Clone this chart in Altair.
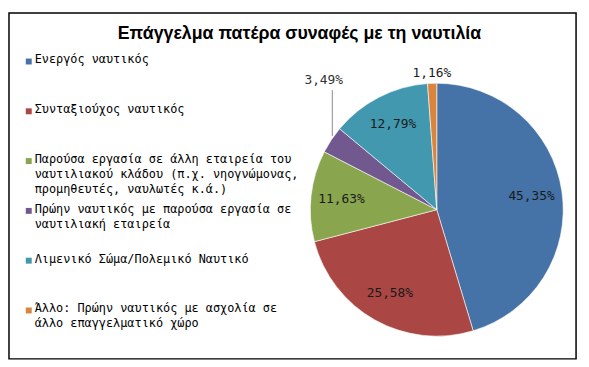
import math
import altair as alt
import pandas as pd

title_text = "Επάγγελμα πατέρα συναφές με τη ναυτιλία"
categories = [
    "Ενεργός ναυτικός",
    "Συνταξιούχος ναυτικός",
    "Παρούσα εργασία σε άλλη εταιρεία του ναυτιλιακού κλάδου",
    "Πρώην ναυτικός με παρούσα εργασία σε ναυτιλιακή εταιρεία",
    "Λιμενικό Σώμα/Πολεμικό Ναυτικό",
    "Άλλο: Πρώην ναυτικός με ασχολία σε άλλο επαγγελματικό χώρο",
]
legend_labels = [
    "Ενεργός ναυτικός",
    "Συνταξιούχος ναυτικός",
    "Παρούσα εργασία σε άλλη εταιρεία του\nναυτιλιακού κλάδου (π.χ. νηογνώμονας,\nπρομηθευτές, ναυλωτές κ.ά.)",
    "Πρώην ναυτικός με παρούσα εργασία σε\nναυτιλιακή εταιρεία",
    "Λιμενικό Σώμα/Πολεμικό Ναυτικό",
    "Άλλο: Πρώην ναυτικός με ασχολία σε\nάλλο επαγγελματικό χώρο",
]
values = [45.35, 25.58, 11.63, 3.49, 12.79, 1.16]
colors = ["#4572A7", "#AA4643", "#89A54E", "#71588F", "#4198AF", "#DB843D"]

labels = [f"{v:.2f}%".replace(".", ",") for v in values]
df = pd.DataFrame({
    "cat": categories,
    "legend": legend_labels,
    "value": values,
    "order": list(range(len(values))),
    "label": labels,
    "inner": [l if v > 5 else "" for l, v in zip(labels, values)],
    "small1": [l if v == 1.16 else "" for l, v in zip(labels, values)],
    "small2": [l if v == 3.49 else "" for l, v in zip(labels, values)],
})

W, H = 574, 350
CX, CY, R = 433, 199, 128

color = alt.Color("cat:N", scale=alt.Scale(domain=categories, range=colors), legend=None)
theta = alt.Theta("value:Q", stack=True)
order = alt.Order("order:Q", sort="ascending")
mono = "DejaVu Sans Mono"

base = alt.Chart(df)

pie = base.mark_arc(outerRadius=R, stroke="white", strokeWidth=0.6).encode(
    theta=theta, color=color, order=order, x=alt.value(CX), y=alt.value(CY)
)

inner_text = base.mark_text(font=mono, fontSize=13, color="#1a1a1a").encode(
    theta=theta, order=order, text="inner:N", radius=alt.value(97),
    x=alt.value(CX), y=alt.value(CY)
)
small1_text = base.mark_text(font=mono, fontSize=13, color="#1a1a1a").encode(
    theta=theta, order=order, text="small1:N", radius=alt.value(138),
    x=alt.value(CX), y=alt.value(CY)
)
small2_text = base.mark_text(font=mono, fontSize=13, color="#333333", dx=4, dy=-53).encode(
    theta=theta, order=order, text="small2:N", radius=alt.value(142),
    x=alt.value(CX), y=alt.value(CY)
)

# leader line for the 3,49% slice, derived from the pie geometry
cum = sum(values[:3]) + values[3] / 2
ang = cum / sum(values) * 2 * math.pi
lx = CX + R * math.sin(ang) + 1
ly_edge = CY - R * math.cos(ang) - 4
leader = alt.Chart(pd.DataFrame({"a": [0]})).mark_rule(color="#888888", strokeWidth=1).encode(
    x=alt.value(lx), y=alt.value(ly_edge), y2=alt.value(78)
)

yscale = alt.Y("cat:N", sort=categories,
               scale=alt.Scale(type="point", domain=categories, range=[49, 301], padding=0),
               axis=None)
legend_sq = base.mark_point(shape="square", filled=True, size=36, opacity=1).encode(
    x=alt.value(20), y=yscale, color=color
)
legend_txt = base.mark_text(font=mono, fontSize=12, align="left", baseline="top",
                            dy=-7, lineBreak="\n", lineHeight=15, color="#000000").encode(
    x=alt.value(26), y=yscale, text="legend:N"
)

title = alt.Chart(pd.DataFrame({"t": [title_text]})).mark_text(
    font="Liberation Sans", fontSize=18, fontWeight="bold", color="#000000"
).encode(x=alt.value(294), y=alt.value(21), text="t:N")

chart = alt.layer(pie, inner_text, small1_text, small2_text, leader, legend_sq, legend_txt, title).properties(
    width=W, height=H, padding={"left": 1, "top": 1, "right": 1, "bottom": 1}, background="white"
).configure_view(stroke="black", strokeWidth=1.5)

chart.save("out.html", embed_options={"renderer": "svg", "actions": False})
